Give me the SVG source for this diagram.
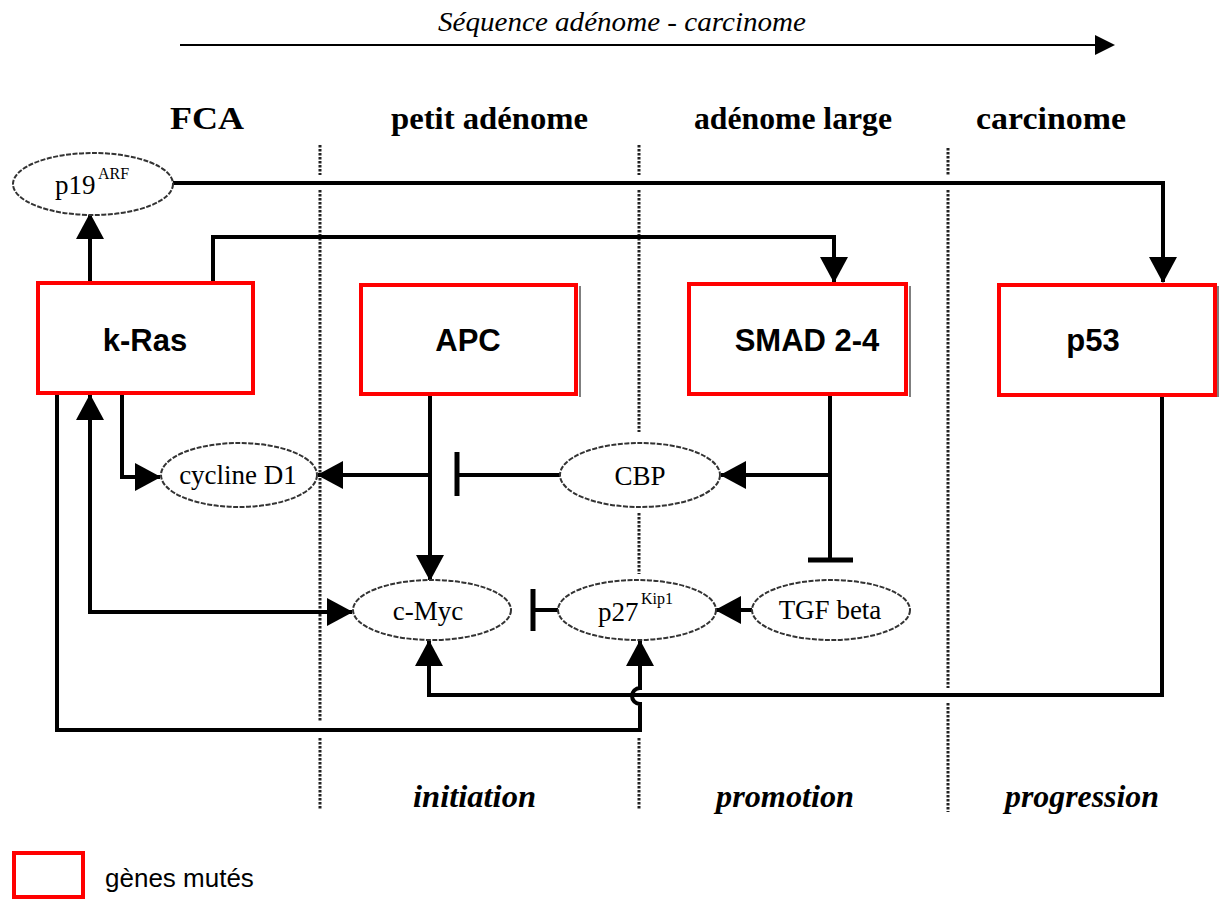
<svg xmlns="http://www.w3.org/2000/svg" width="1221" height="900" viewBox="0 0 1221 900">
<style>
.bg{fill:#fff}
.box{fill:#fff;stroke:#ff0000;stroke-width:4}
.shadow{stroke:#555;stroke-width:1.5;fill:none}
.ell{fill:#fff;stroke:#333;stroke-width:2;stroke-dasharray:5 1.5}
.con{fill:none;stroke:#000;stroke-width:4}
.bar{stroke:#000;stroke-width:5}
.sep{stroke:#222;stroke-width:3;stroke-dasharray:2.5 1.5;fill:none}
.hdr{font-family:"Liberation Serif","Times New Roman",serif;font-weight:bold;font-size:31px}
.stage{font-family:"Liberation Serif","Times New Roman",serif;font-weight:bold;font-style:italic;font-size:32px}
.title{font-family:"Liberation Serif","Times New Roman",serif;font-style:italic;font-size:27px}
.gene{font-family:"Liberation Sans",Arial,sans-serif;font-weight:bold;font-size:31px;text-anchor:middle}
.prot{font-family:"Liberation Serif","Times New Roman",serif;font-size:27px}
.sup{font-family:"Liberation Serif","Times New Roman",serif;font-size:16px}
.leg{font-family:"Liberation Sans",Arial,sans-serif;font-size:26px}
</style>
<defs>
<marker id="arr" markerUnits="userSpaceOnUse" markerWidth="26" markerHeight="28" viewBox="0 0 26 28" refX="25" refY="14" orient="auto-start-reverse">
<path d="M0,0 L26,14 L0,28 z" fill="#000"/>
</marker>
</defs>
<rect class="bg" x="0" y="0" width="1221" height="900"/>

<g id="sequence">
<text class="title" x="438" y="31" textLength="368" lengthAdjust="spacingAndGlyphs">Séquence adénome - carcinome</text>
<line x1="180" y1="45" x2="1096" y2="45" stroke="#000" stroke-width="2"/>
<polygon points="1095,35 1115,45 1095,55" fill="#000"/>
</g>

<g id="headers">
<text class="hdr" x="170" y="129" textLength="74" lengthAdjust="spacingAndGlyphs">FCA</text>
<text class="hdr" x="391" y="129" textLength="197" lengthAdjust="spacingAndGlyphs">petit adénome</text>
<text class="hdr" x="694" y="129" textLength="198" lengthAdjust="spacingAndGlyphs">adénome large</text>
<text class="hdr" x="976" y="129" textLength="150" lengthAdjust="spacingAndGlyphs">carcinome</text>
</g>

<g id="separators">
<path class="sep" d="M320 145 V175 M320 190 V722 M320 738 V810"/>
<path class="sep" d="M639 145 V175 M639 190 V432 M639 513 V574 M639 738 V810"/>
<path class="sep" d="M948 148 V175 M948 190 V688 M948 703 V812"/>
</g>

<g id="stages">
<text class="stage" x="413" y="807" textLength="123" lengthAdjust="spacingAndGlyphs">initiation</text>
<text class="stage" x="716" y="807" textLength="138" lengthAdjust="spacingAndGlyphs">promotion</text>
<text class="stage" x="1005" y="807" textLength="154" lengthAdjust="spacingAndGlyphs">progression</text>
</g>

<g id="connectors">
<path class="con" d="M90 283 V214" marker-end="url(#arr)"/>
<path class="con" d="M173 183 H1163 V282" marker-end="url(#arr)"/>
<path class="con" d="M213 283 V237 H834 V282" marker-end="url(#arr)"/>
<path class="con" d="M122 394 V477 H160" marker-end="url(#arr)"/>
<path class="con" d="M430 395 V580" marker-end="url(#arr)"/>
<path class="con" d="M430 475 H318" marker-end="url(#arr)"/>
<path class="con" d="M560 475 H457"/>
<line class="bar" x1="457" y1="452" x2="457" y2="496"/>
<path class="con" d="M830 394 V560"/>
<line class="bar" x1="808" y1="560" x2="853" y2="560"/>
<path class="con" d="M830 475 H721" marker-end="url(#arr)"/>
<path class="con" d="M90 395 V612 H352" marker-start="url(#arr)" marker-end="url(#arr)"/>
<path class="con" d="M558 610 H533"/>
<line class="bar" x1="533" y1="589" x2="533" y2="631"/>
<path class="con" d="M752 610 H716" marker-end="url(#arr)"/>
<path class="con" d="M1162 395 V695 H429 V641" marker-end="url(#arr)"/>
<path class="con" d="M57 394 V730 H640 V704 A8 8 0 0 1 640 688 V641" marker-end="url(#arr)"/>
</g>

<g id="p19">
<ellipse class="ell" cx="93" cy="184" rx="80" ry="31"/>
<text class="prot" x="55" y="194">p19</text>
<text class="sup" x="98" y="179">ARF</text>
</g>

<g id="kras">
<rect class="box" x="38" y="283" width="215" height="110"/>
<text class="gene" x="145" y="351">k-Ras</text>
</g>
<g id="apc">
<path class="shadow" d="M580 286 V397"/>
<rect class="box" x="361" y="285" width="215" height="109"/>
<text class="gene" x="468" y="351">APC</text>
</g>
<g id="smad">
<path class="shadow" d="M910 286 V397"/>
<rect class="box" x="689" y="284" width="217" height="110"/>
<text class="gene" x="807" y="351">SMAD 2-4</text>
</g>
<g id="p53">
<path class="shadow" d="M1218 286 V397"/>
<rect class="box" x="999" y="285" width="216" height="110"/>
<text class="gene" x="1093" y="351">p53</text>
</g>

<g id="cyclineD1">
<ellipse class="ell" cx="239" cy="475" rx="78" ry="32"/>
<text class="prot" x="238" y="484" text-anchor="middle">cycline D1</text>
</g>
<g id="cbp">
<ellipse class="ell" cx="640" cy="475" rx="80" ry="32"/>
<text class="prot" x="640" y="485" text-anchor="middle">CBP</text>
</g>
<g id="cmyc">
<ellipse class="ell" cx="432" cy="610" rx="79" ry="30"/>
<text class="prot" x="428" y="620" text-anchor="middle">c-Myc</text>
</g>
<g id="p27">
<ellipse class="ell" cx="637" cy="610" rx="79" ry="30"/>
<text class="prot" x="598" y="621">p27</text>
<text class="sup" x="641" y="604">Kip1</text>
</g>
<g id="tgfbeta">
<ellipse class="ell" cx="831" cy="610" rx="79" ry="30"/>
<text class="prot" x="830" y="619" text-anchor="middle">TGF beta</text>
</g>

<g id="legend">
<rect x="14" y="853" width="69" height="44" fill="#fff" stroke="#ff0000" stroke-width="4"/>
<text class="leg" x="105" y="887">gènes mutés</text>
</g>
</svg>
